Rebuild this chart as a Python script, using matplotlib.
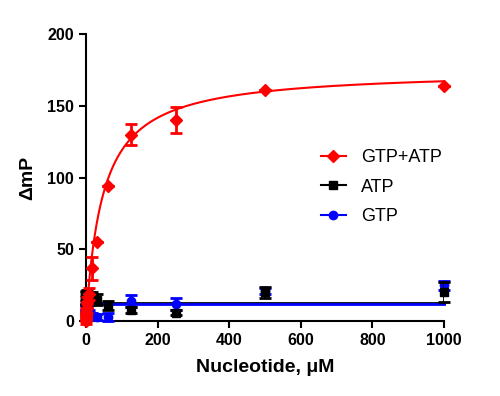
import numpy as np
import matplotlib
matplotlib.use("Agg")
import matplotlib.pyplot as plt

plt.rcParams['font.family'] = ['Liberation Sans', 'DejaVu Sans']

# nucleotide concentrations (uM), 2-fold dilution series
conc = [0, 0.24, 0.49, 0.98, 1.95, 3.9, 7.8, 15.6, 31.25, 62.5, 125, 250, 500, 1000]

# delta mP
gtp_atp = [0, 2, 4, 6, 9, 13, 19, 37, 55, 94, 130, 140, 161, 164]
gtp_atp_err = [2, 2, 3, 3, 3, 4, 4, 8, 0, 0, 7, 9, 0, 0]
atp = [14, 17, 15, 18, 16, 19, 17, 16, 15, 11, 8, 6, 20, 20]
atp_err = [3, 3, 3, 3, 3, 3, 3, 4, 4, 3, 2, 2, 4, 7]
gtp = [8, 6, 9, 10, 7, 5, 6, 4, 3, 3, 14, 12, 21, 25]
gtp_err = [2, 2, 2, 2, 2, 2, 2, 2, 2, 3, 4, 4, 2, 3]

# fit parameters (one-site binding for GTP+ATP, flat lines for the others)
bmax, kd = 175, 47
atp_fit = 12.5
gtp_fit = 11.8

fig = plt.figure(figsize=(5, 3.96), dpi=100)
ax = fig.add_axes([0.172, 0.189, 0.716, 0.725])

xfit = np.linspace(0, 1000, 400)
ax.plot(xfit, bmax * xfit / (kd + xfit), color='red', lw=1.5, zorder=5)
ax.plot([0, 1000], [atp_fit, atp_fit], color='black', lw=2, zorder=3)
ax.plot([0, 1000], [gtp_fit, gtp_fit], color='blue', lw=2, zorder=3.5)

ax.errorbar(conc, gtp, yerr=gtp_err, fmt='o', color='blue', ms=6,
            elinewidth=2, capsize=4, capthick=2, zorder=3.6)
ax.errorbar(conc, atp, yerr=atp_err, fmt='s', color='black', ms=6,
            elinewidth=2, capsize=4, capthick=2, zorder=4)
ax.errorbar(conc, gtp_atp, yerr=gtp_atp_err, fmt='D', color='red', ms=6.5,
            elinewidth=2, capsize=4, capthick=2, zorder=6)

# legend handles: line + marker
h1, = ax.plot([], [], color='red', marker='D', ms=6.5, lw=1.5)
h2, = ax.plot([], [], color='black', marker='s', ms=6, lw=1.5)
h3, = ax.plot([], [], color='blue', marker='o', ms=6, lw=1.5)
ax.legend([h1, h2, h3], ['GTP+ATP', 'ATP', 'GTP'], frameon=False,
          fontsize=13, loc='upper left', bbox_to_anchor=(0.61, 0.655),
          handlelength=1.4, handletextpad=0.85, labelspacing=0.68)

ax.set_xlim(0, 1000)
ax.set_ylim(0, 200)
ax.set_xticks([0, 200, 400, 600, 800, 1000])
ax.set_yticks([0, 50, 100, 150, 200])
for s in ['top', 'right']:
    ax.spines[s].set_visible(False)
for s in ['left', 'bottom']:
    ax.spines[s].set_linewidth(1.5)
ax.tick_params(direction='out', length=5, width=1.5, labelsize=11.5)
for lab in ax.get_xticklabels() + ax.get_yticklabels():
    lab.set_fontweight('bold')

ax.set_xlabel('Nucleotide, \u03bcM', fontsize=14, fontweight='bold', labelpad=8)
ax.set_ylabel('\u0394mP', fontsize=14, fontweight='bold', labelpad=8)

for line in ax.get_lines():
    line.set_clip_on(False)

fig.savefig('out.png', dpi=100)
